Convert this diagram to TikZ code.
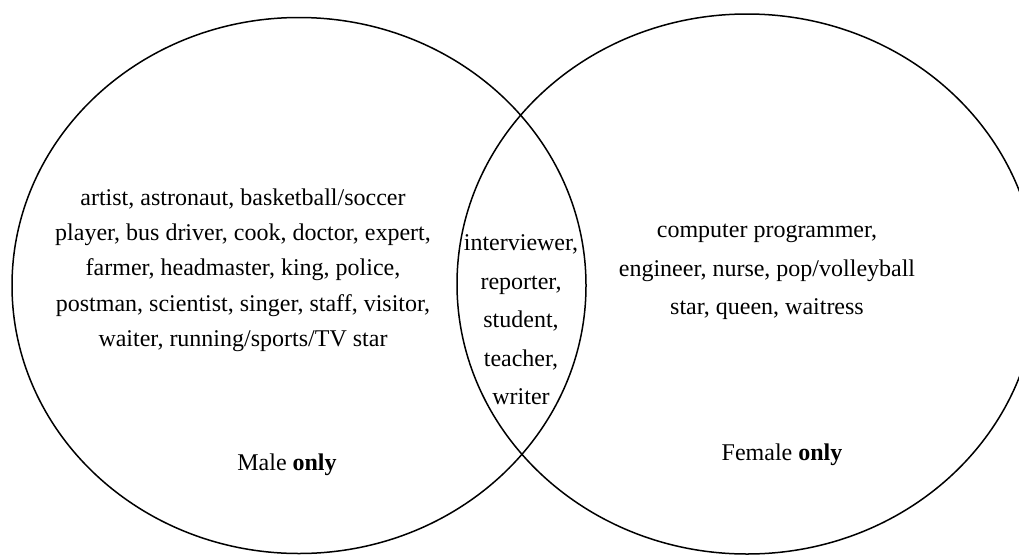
\documentclass[tikz,border=0pt]{standalone}
\usepackage{fontspec}
\setmainfont{Liberation Serif}
\usepackage{tikz}
\usetikzlibrary{positioning}
\tikzset{
  set/.style   ={draw, line width=1.5pt},
  words/.style ={align=center, font=\fontsize{24}{35.3}\selectfont},
  lens/.style  ={align=center, font=\fontsize{24}{38.5}\selectfont},
  tag/.style   ={font=\fontsize{24}{28}\selectfont},
}

\begin{document}
\begin{tikzpicture}[x=1pt, y=-1pt]
  \useasboundingbox (0,0) rectangle (1019,554);
  \clip (0,0) rectangle (1019,554);

  % the two sets
  \draw[set] (299,285.5) ellipse [x radius=287, y radius=268];
  \draw[set] (747,284) ellipse [x radius=290, y radius=270];

  \node[words] (male) at (243,270)
    {artist, astronaut, basketball/soccer\\player, bus driver, cook, doctor, expert,\\farmer, headmaster, king, police,\\postman, scientist, singer, staff, visitor,\\waiter, running/sports/TV star};
  \node[lens] (both) at (521,320)
    {interviewer,\\reporter,\\student,\\teacher,\\writer};
  \node[lens] (female) at (767,272)
    {computer programmer,\\engineer, nurse, pop/volleyball\\star, queen, waitress};

  \node[tag] (maleonly) at (287,465) {Male \textbf{only}};
  \node[tag] (femaleonly) at (782,455) {Female \textbf{only}};
\end{tikzpicture}
\end{document}
